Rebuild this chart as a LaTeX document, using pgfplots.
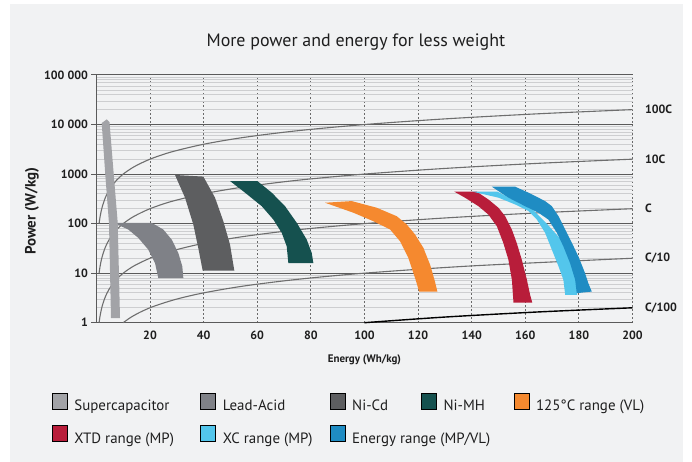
\documentclass[border=0pt]{standalone}
\usepackage{fontspec}
\setmainfont{PT Sans}
\usepackage{pgfplots}
\pgfplotsset{compat=1.18}
\definecolor{bgp}{HTML}{F1F2F3}
\definecolor{txt}{HTML}{1E1E1E}
\definecolor{majc}{HTML}{5A5A5A}
\definecolor{minc}{HTML}{CDCED0}
\definecolor{dashc}{HTML}{6A6A6A}
\definecolor{crc}{HTML}{6E6E6E}
\definecolor{sc}{HTML}{A2A3A7}
\definecolor{la}{HTML}{7F8187}
\definecolor{nicd}{HTML}{5D5E60}
\definecolor{nimh}{HTML}{15514F}
\definecolor{org}{HTML}{F5892F}
\definecolor{xtd}{HTML}{B81D3A}
\definecolor{xc}{HTML}{53C6EC}
\definecolor{enr}{HTML}{1F8CC3}
\begin{document}
\begin{tikzpicture}
\useasboundingbox (0,0) rectangle (692bp,462bp);
\fill[white] (0,0) rectangle (692bp,462bp);
\fill[bgp] (10bp,0bp) rectangle (683bp,458bp);
\begin{axis}[
  at={(96.4bp,139.3bp)}, anchor=south west,
  scale only axis, width=536.1bp, height=247.7bp,
  xmin=0, xmax=200, ymin=1, ymax=100000, ymode=log,
  clip=false,
  axis y line*=left, axis x line*=bottom,
  axis line style={draw=majc, line width=1bp},
  xtick={20,40,60,80,100,120,140,160,180,200},
  xticklabels={20,40,60,80,100,120,140,160,180,200},
  ytick={1,10,100,1000,10000,100000},
  yticklabels={1,10,100,1000,{10 000},{100 000}},
  tick label style={font=\fontsize{12}{14}\selectfont\bfseries, text=txt},
  ymajorgrids, yminorgrids, xmajorgrids,
  major y grid style={draw=majc, line width=1bp},
  minor y grid style={draw=minc, line width=0.8bp},
  major x grid style={draw=dashc, line width=0.8bp, dash pattern=on 2bp off 2bp},
  tick align=outside, major tick length=5bp, minor tick length=0pt,
  y tick style={draw=majc, line width=1bp},
  x tick style={draw=none},
  title={More power and energy for less weight},
  title style={font=\fontsize{18}{21}\selectfont, text=txt, at={(rel axis cs:0.484,1)}, anchor=base, yshift=23bp},
  xlabel={Energy (Wh/kg)},
  xlabel style={font=\fontsize{11}{13}\selectfont\bfseries, text=txt, at={(rel axis cs:0.5,0)}, anchor=center, yshift=-37bp},
  ylabel={Power (W/kg)},
  ylabel style={font=\fontsize{15}{18}\selectfont\bfseries, text=txt, at={(rel axis cs:-0.12,0.45)}, anchor=center},
  legend columns=5,
  legend style={at={(rel axis cs:-0.0828,-0.284)}, anchor=north west, draw=none, fill=none,
    inner sep=0pt, outer sep=0pt, font=\fontsize{15}{18}\selectfont, text=txt,
    row sep=13bp, column sep=0bp, nodes={inner sep=0pt}},
  /tikz/every odd column/.append style={column sep=7bp},
  legend cell align=left,
  legend image code/.code={\fill[#1] (0bp,-3bp) rectangle (15bp,13bp);},
]
% C-rate lines
\addplot[forget plot, crc, line width=1.1bp, smooth] coordinates {(1,100) (1.3,130) (1.7,170) (2.2,220) (3,300) (4,400) (5.5,550) (7.5,750) (10,1000) (14,1400) (20,2000) (28,2800) (40,4000) (55,5500) (75,7500) (100,10000) (130,13000) (165,16500) (200,20000)};
\addplot[forget plot, crc, line width=1.1bp, smooth] coordinates {(1,10) (1.3,13) (1.7,17) (2.2,22) (3,30) (4,40) (5.5,55) (7.5,75) (10,100) (14,140) (20,200) (28,280) (40,400) (55,550) (75,750) (100,1000) (130,1300) (165,1650) (200,2000)};
\addplot[forget plot, crc, line width=1.1bp, smooth] coordinates {(1,1) (1.3,1.3) (1.7,1.7) (2.2,2.2) (3,3) (4,4) (5.5,5.5) (7.5,7.5) (10,10) (14,14) (20,20) (28,28) (40,40) (55,55) (75,75) (100,100) (130,130) (165,165) (200,200)};
\addplot[forget plot, crc, line width=1.1bp, smooth] coordinates {(10,1) (13,1.3) (17,1.7) (22,2.2) (30,3) (40,4) (55,5.5) (75,7.5) (100,10) (140,14) (200,20)};
\addplot[forget plot, black, line width=1.4bp, smooth] coordinates {(100,1) (130,1.3) (165,1.65) (200,2)};
% Lead-Acid
\addplot[forget plot, fill=la, draw=none] coordinates {(6.9,104) (20.6,104) (24.96,76) (28.1,47.5) (30.56,25.6) (32.05,13.7) (32.43,7.95) (23.1,7.95) (21.87,16) (19.37,29.8) (15.63,51.5) (11.9,76) (7.8,96)} -- cycle;
% Supercapacitor
\addplot[forget plot, fill=sc, draw=none] coordinates {(1.98,10700) (3.84,12700) (4.89,11200) (6.46,1000) (7.95,105) (8.81,1.23) (5.45,1.23) (4.7,100) (3.3,1000)} -- cycle;
% Ni-Cd
\addplot[forget plot, fill=nicd, draw=none] coordinates {(29.33,959) (39.9,890) (44.25,334) (47.35,112) (49.85,37.7) (51.46,11.2) (39.66,11.2) (38.0,32.3) (36.16,95.9) (33.06,334)} -- cycle;
% Ni-MH
\addplot[forget plot, fill=nimh, draw=none] coordinates {(49.85,724) (60.04,724) (65.41,421) (70.37,225) (74.74,104) (78.47,47.6) (80.34,25.6) (80.93,16.0) (71.6,16.0) (71.0,34.8) (69.14,65.1) (66.0,121) (61.68,225) (55.45,421)} -- cycle;
% 125C range
\addplot[forget plot, fill=org, draw=none] coordinates {(85.3,264) (95.26,285) (104.6,209) (112.05,141) (115.8,95.9) (118.9,60.1) (122.0,32.3) (124.5,14.8) (126.3,6.79) (127.2,4.25) (120.4,4.25) (118.9,7.95) (116.4,20.2) (113.3,43.9) (109.6,75.9) (103.3,112) (95.86,166)} -- cycle;
% XTD range
\addplot[forget plot, fill=xtd, draw=none] coordinates {(133.5,442) (141.9,442) (146.2,308) (150.0,209) (152.5,141) (155.0,75.9) (156.8,40.8) (158.7,18.7) (160.6,7.35) (161.8,3.65) (162.6,2.55) (155.6,2.55) (155.0,7.35) (153.7,18.7) (151.8,40.8) (149.4,88.5) (146.2,153) (142.5,225) (137.5,334)} -- cycle;
% XC range
\addplot[forget plot, fill=xc, draw=none] coordinates {(140.3,442) (149.6,442) (155.2,308) (162.7,193) (168.3,96) (176.7,29.8) (180.1,9.28) (179.3,3.65) (174.9,3.65) (174.2,7.35) (172.4,13.7) (169.9,29.8) (167.4,65.1) (164.3,121) (161.2,179) (156.2,244) (150.0,334)} -- cycle;
% Energy range
\addplot[forget plot, fill=enr, draw=none] coordinates {(147.5,557) (156.2,557) (161.2,421) (167.4,285) (169.9,225) (172.4,141) (174.9,75.9) (177.4,40.8) (179.8,21.8) (182.3,10.0) (183.5,6.30) (184.8,4.25) (179.2,3.95) (178.6,7.35) (176.7,16.0) (174.2,34.8) (171.8,65.1) (168.6,121) (164.9,166) (159.9,225) (153.7,334)} -- cycle;
% legend
\addlegendimage{fill=sc}\addlegendentry{\makebox[126bp][l]{Supercapacitor}}
\addlegendimage{fill=la}\addlegendentry{\makebox[107bp][l]{Lead-Acid}}
\addlegendimage{fill=nicd}\addlegendentry{\makebox[69bp][l]{Ni-Cd}}
\addlegendimage{fill=nimh}\addlegendentry{\makebox[70bp][l]{Ni-MH}}
\addlegendimage{fill=org}\addlegendentry{125°C range (VL)}
\addlegendimage{fill=xtd}\addlegendentry{\makebox[126bp][l]{XTD range (MP)}}
\addlegendimage{fill=xc}\addlegendentry{\makebox[107bp][l]{XC range (MP)}}
\addlegendimage{fill=enr}\addlegendentry{\makebox[69bp][l]{Energy range (MP/VL)}}
% right labels
\node[anchor=west, xshift=9bp, font=\fontsize{12}{14}\selectfont\bfseries, text=txt] at (axis cs:200,20000) {100C};
\node[anchor=west, xshift=9bp, font=\fontsize{12}{14}\selectfont\bfseries, text=txt] at (axis cs:200,2000) {10C};
\node[anchor=west, xshift=9bp, font=\fontsize{12}{14}\selectfont\bfseries, text=txt] at (axis cs:200,200) {C};
\node[anchor=west, xshift=9bp, font=\fontsize{12}{14}\selectfont\bfseries, text=txt] at (axis cs:200,20) {C/10};
\node[anchor=west, xshift=9bp, font=\fontsize{12}{14}\selectfont\bfseries, text=txt] at (axis cs:200,2) {C/100};
\end{axis}
\end{tikzpicture}
\end{document}
